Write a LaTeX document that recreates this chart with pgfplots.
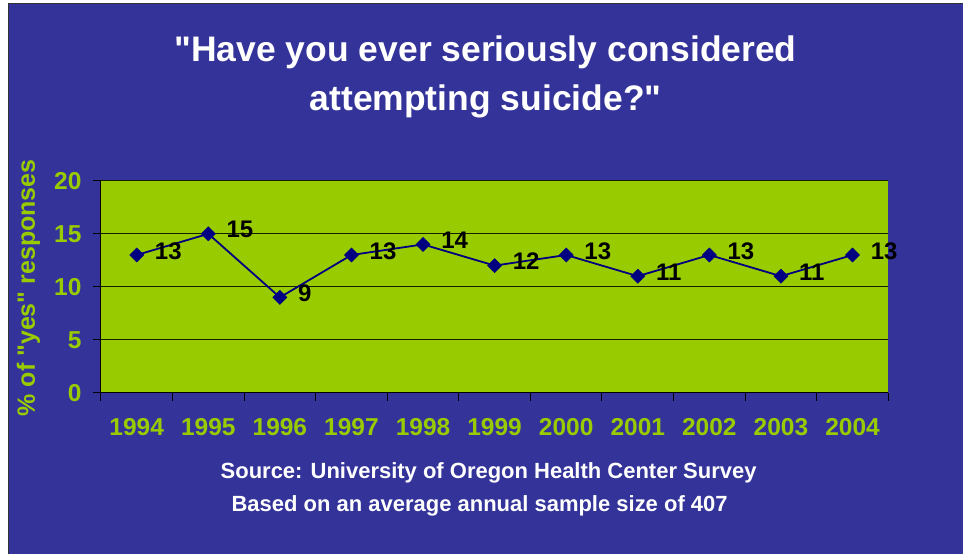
\documentclass[border=0pt]{standalone}
\usepackage{pgfplots}
\pgfplotsset{compat=1.18}
\usepackage{fontspec}
\setmainfont{Liberation Sans}[Ligatures=TeXOff]

\definecolor{slide}{HTML}{333399}
\definecolor{plotgreen}{HTML}{99CC00}
\definecolor{navyline}{HTML}{000080}

\begin{document}
\begin{tikzpicture}[x=1pt,y=1pt]
  % slide background
  \fill[white] (0,0) rectangle (964,554);
  \fill[slide] (8,0) rectangle (964,551);
  \draw[black!80,line width=1.5pt] (8.75,0) -- (8.75,550.25) -- (964,550.25);

  % title
  \node[anchor=base,text=white,font=\fontsize{35.5}{42}\selectfont\bfseries]
    at (486,492) {"Have you ever seriously considered};
  \node[anchor=base,text=white,font=\fontsize{35.5}{42}\selectfont\bfseries]
    at (486,443) {attempting suicide?"};

  \begin{axis}[
    at={(101pt,161pt)}, anchor=south west,
    width=788pt, height=212pt, scale only axis,
    xmin=-0.5, xmax=10.5, ymin=0, ymax=20,
    axis background/.style={fill=plotgreen},
    axis x line*=bottom, axis y line*=left,
    axis line style={black, line width=1pt, -},
    xtick={-0.5,0.5,...,10.5},
    xticklabels={1994,1995,1996,1997,1998,1999,2000,2001,2002,2003,2004},
    x tick label as interval,
    ytick={0,5,10,15,20},
    tick align=outside, major tick length=8pt,
    tick style={black, line width=1pt},
    ymajorgrids, grid style={black!85!plotgreen, line width=1pt},
    /pgf/number format/assume math mode=true,
    tick label style={text=plotgreen, font=\fontsize{24.5}{28}\selectfont\bfseries},
    xticklabel style={yshift=-14pt},
    yticklabel style={xshift=-8pt},
    ylabel={\% of "yes" responses},
    ylabel style={at={(axis description cs:-0.092,0.495)}, anchor=center,
      text=plotgreen, font=\fontsize{25}{28}\selectfont\bfseries},
    nodes near coords,
    point meta=explicit symbolic,
    every node near coord/.append style={anchor=west, inner sep=0pt,
      xshift=18pt, yshift=4pt, text=black,
      font=\fontsize{24}{28}\selectfont\bfseries},
    clip=false,
  ]
    \addplot[navyline, line width=1.8pt, mark=square*,
      mark size=5pt, mark options={rotate=45, fill=navyline, draw=navyline, line width=0.5pt}]
      table[meta=v] {
        x  y  v
        0  13 13
        1  15 15
        2  9  9
        3  13 13
        4  14 14
        5  12 12
        6  13 13
        7  11 11
        8  13 13
        9  11 11
        10 13 13
      };
  \end{axis}

  % source notes
  \node[anchor=base,text=white,font=\fontsize{22}{26}\selectfont\bfseries]
    at (489,75) {Source: University of Oregon Health Center Survey};
  \node[anchor=base,text=white,font=\fontsize{22}{26}\selectfont\bfseries]
    at (480,42) {Based on an average annual sample size of 407};
\end{tikzpicture}
\end{document}
